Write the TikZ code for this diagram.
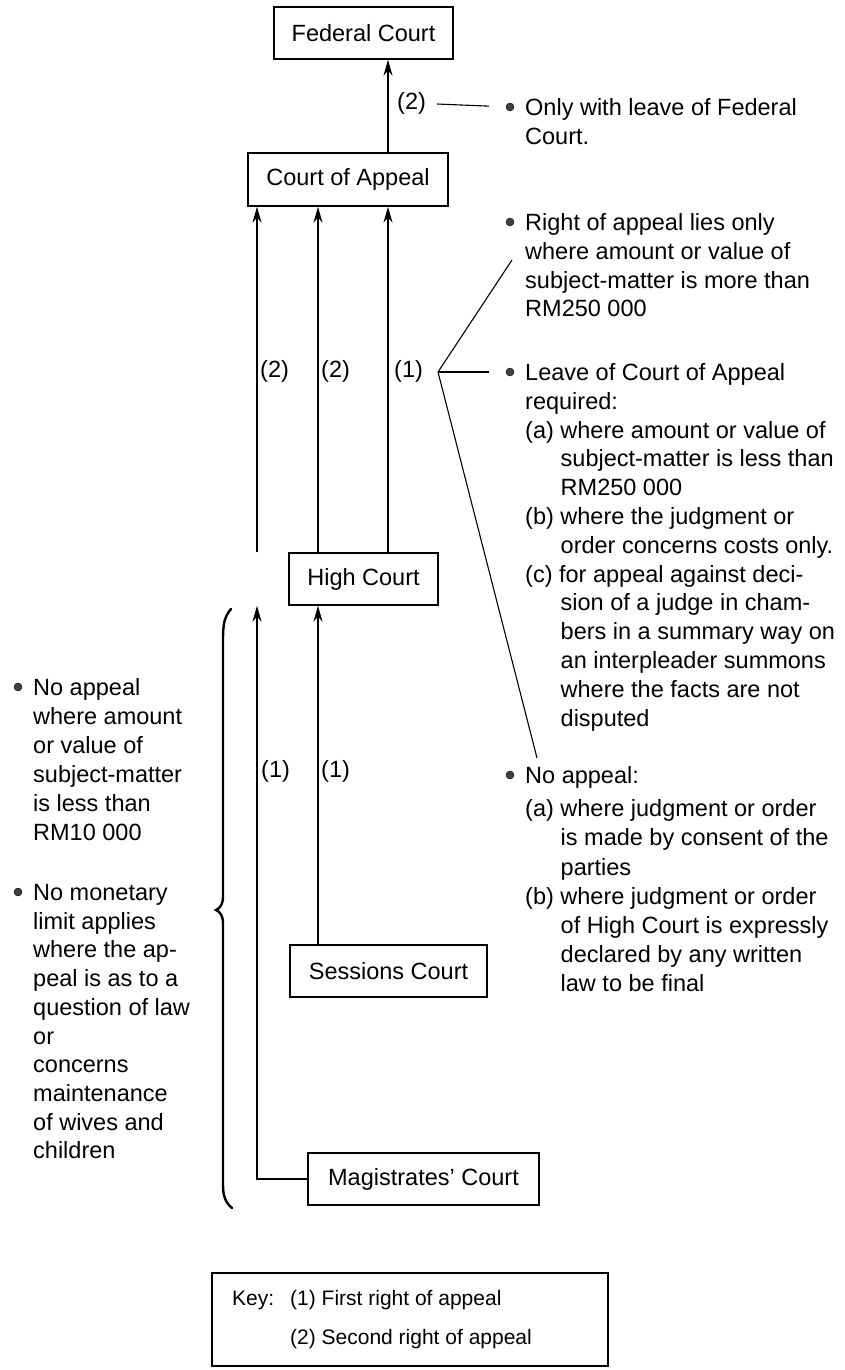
\documentclass[tikz,border=0pt]{standalone}
\usepackage{fontspec}
\setmainfont{Liberation Sans}
\usetikzlibrary{arrows.meta}
\newcommand{\ind}{\hspace*{35.5pt}}
\begin{document}
\begin{tikzpicture}[x=1pt,y=-1pt,
  court/.style={draw, line width=1.4pt, inner sep=0pt, font=\fontsize{23.5}{28.8}\selectfont},
  arr/.style={line width=1.4pt, -{Stealth[length=16pt,width=9pt]}},
  lbl/.style={anchor=mid west, inner sep=0pt, font=\fontsize{23.5}{28.8}\selectfont},
  % multi-line notes are placed by the baseline of their last line
  note/.style={anchor=base west, inner sep=0pt, align=left, font=\fontsize{23.5}{28.8}\selectfont},
  keytxt/.style={anchor=mid west, inner sep=0pt, font=\fontsize{21}{25}\selectfont},
  dot/.style={circle, fill=black!75, draw=black, line width=0.4pt, inner sep=0pt, minimum size=8pt},
  lead/.style={line width=1.1pt}]
\useasboundingbox (0,0) rectangle (845,1370);

% courts
\node[court, minimum width=179pt, minimum height=52pt] (fed) at (363.5,33) {Federal Court};
\node[court, minimum width=200pt, minimum height=53pt] (coa) at (348,179.5) {Court of Appeal};
\node[court, minimum width=149pt, minimum height=52pt] (hc) at (363.5,579) {High Court};
\node[court, minimum width=197pt, minimum height=52pt] (ses) at (388.5,971) {Sessions Court};
\node[court, minimum width=231pt, minimum height=52pt] (mag) at (423.5,1179) {Magistrates' Court};

% columns of the appeal arrows
\coordinate (xa) at (257,0);
\coordinate (xb) at (318,0);
\coordinate (xc) at (388,0);

\draw[arr] (xc |- coa.north) -- (xc |- fed.south);
\draw[arr] (xa |- hc.north) -- (xa |- coa.south);
\draw[arr] (xb |- hc.north) -- (xb |- coa.south);
\draw[arr] (xc |- hc.north) -- (xc |- coa.south);
\draw[arr] (xb |- ses.north) -- (xb |- hc.south);
\draw[arr] (mag.west) -| (xa |- hc.south);

% arrow labels
\node[lbl] (l2f) at (397,107) {(2)};
\node[lbl] (l2a) at (260,375) {(2)};
\node[lbl] (l2b) at (321,375) {(2)};
\node[lbl] (l1c) at (394,375) {(1)};
\node[lbl] (l1a) at (261,775) {(1)};
\node[lbl] (l1b) at (321,775) {(1)};

% bullets
\node[dot] (d1) at (510,107) {};
\node[dot] (d2) at (510,222) {};
\node[dot] (d3) at (510,372) {};
\node[dot] (d4) at (510,775) {};
\node[dot] (d5) at (18,687) {};
\node[dot] (d6) at (18,892) {};

% leaders
\draw[lead, shorten <=11pt, shorten >=17pt] (l2f.east) -- (d1);
\coordinate (fan) at (438,372);
\coordinate (f1) at (512,260);
\coordinate (f3) at (537,758);
\draw[lead] (f1) -- (fan) -- (f3);
\draw[lead, shorten >=16.5pt] (fan) -- (d3);

% notes on the right
\node[note] (t1) at (525,144.3) {Only with leave of Federal\\Court.};
\node[note] (t2) at (525,316.9) {Right of appeal lies only\\where amount or value of\\subject-matter is more than\\RM250 000};
\node[note] (t3) at (525,726.1) {Leave of Court of Appeal\\required:\\(a) where amount or value of\\\ind subject-matter is less than\\\ind RM250 000\\(b) where the judgment or\\\ind order concerns costs only.\\(c) for appeal against deci-\\\ind sion of a judge in cham-\\\ind bers in a summary way on\\\ind an interpleader summons\\\ind where the facts are not\\\ind disputed};
\node[note, font=\fontsize{23.5}{29.2}\selectfont] (t4) at (525,991.9) {No appeal:\\[4pt](a) where judgment or order\\\ind is made by consent of the\\\ind parties\\(b) where judgment or order\\\ind of High Court is expressly\\\ind declared by any written\\\ind law to be final};

% notes on the left
\node[note, font=\fontsize{23.5}{29}\selectfont] (t5) at (33,840.5) {No appeal\\where amount\\or value of\\subject-matter\\is less than\\RM10 000};
\node[note, font=\fontsize{23.5}{28.7}\selectfont] (t6) at (33,1158.8) {No monetary\\limit applies\\where the ap-\\peal is as to a\\question of law\\or\\concerns\\maintenance\\of wives and\\children};

% brace
\draw[line width=2.4pt, line cap=round] (231,609) .. controls (224,617) and (223,625) .. (223,640) -- (223,896) .. controls (223,905) and (220,908) .. (216,910) .. controls (220,912) and (223,915) .. (223,924) -- (223,1185) .. controls (223,1197) and (226,1203) .. (232,1208);

% key
\node[draw, line width=1.4pt, minimum width=396pt, minimum height=93pt, inner sep=0pt] (key) at (410,1319.5) {};
\node[keytxt] (k0) at (232,1303) {Key:};
\node[keytxt] (k1) at (290,1303) {(1) First right of appeal};
\node[keytxt] (k2) at (290,1342) {(2) Second right of appeal};
\end{tikzpicture}
\end{document}
